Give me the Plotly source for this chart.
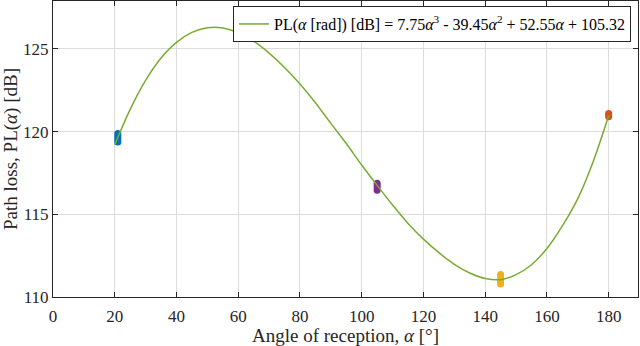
import plotly.graph_objects as go

# fitted curve (deg -> dB)
fit_angle = [20, 25, 30, 35, 40, 45, 50, 55, 60, 65, 70, 75, 80, 85, 90, 95, 100,
             105, 110, 115, 120, 125, 130, 135, 140, 145, 150, 155, 160, 165, 170, 175, 180]
fit_pl = [119.2, 121.35, 123.1, 124.45, 125.4, 126.0, 126.28, 126.27, 125.98, 125.47, 124.75, 123.88, 122.88, 121.75, 120.5, 119.28, 117.98,
          116.75, 115.56, 114.45, 113.5, 112.68, 111.98, 111.45, 111.12, 111.05, 111.35, 111.95, 112.93, 114.3, 115.95, 118.2, 120.97]

# measured points per reception angle
meas_angle = [21, 105, 145, 180]
meas_pl = [
    [119.38, 119.5, 119.62, 119.75, 119.88],
    [116.45, 116.6, 116.75, 116.88],
    [110.78, 110.92, 111.08, 111.22, 111.36],
    [120.9, 121.0, 121.1],
]
meas_colors = ["#0072BD", "#7E2F8E", "#EDB120", "#D95319"]

legend_text = ("PL(<i>α</i> [rad]) [dB] = 7.75<i>α</i><sup>3</sup> - 39.45<i>α</i><sup>2</sup>"
               " + 52.55<i>α</i> + 105.32")
serif = "Liberation Serif"

fig = go.Figure()
for ang, vals, col in zip(meas_angle, meas_pl, meas_colors):
    fig.add_trace(go.Scatter(x=[ang] * len(vals), y=vals, mode="markers", marker={"color": col, "size": 7, "line": {"width": 0}},
                             showlegend=False))
fig.add_trace(go.Scatter(x=fit_angle, y=fit_pl, mode="lines", line={"color": "#77AC30", "width": 1.5, "shape": "spline"},
                         name=legend_text, showlegend=True))

axis_common = dict(showline=True, linecolor="#262626", linewidth=1, mirror="ticks", ticks="inside", ticklen=5,
                   tickcolor="#262626", showgrid=True, gridcolor="#dcdcdc", gridwidth=1, zeroline=False, automargin=False,
                   tickfont={"family": serif, "size": 17, "color": "#262626"})

fig.update_xaxes(range=[0, 189.5], tickvals=[0, 20, 40, 60, 80, 100, 120, 140, 160, 180], ticklabelstandoff=4,
                 title={"text": "Angle of reception, <i>α</i> [°]", "font": {"family": serif, "size": 19, "color": "#262626"}, "standoff": 2},
                 **axis_common)
fig.update_yaxes(range=[110, 127.9], tickvals=[110, 115, 120, 125],
                 title={"text": "Path loss, PL(<i>α</i>) [dB]", "font": {"family": serif, "size": 19, "color": "#262626"}, "standoff": 4},
                 **axis_common)

fig.update_layout(
    width=640, height=346,
    margin={"l": 53, "r": 2, "t": 1, "b": 49, "autoexpand": False},
    paper_bgcolor="white", plot_bgcolor="white",
    font={"family": serif, "color": "#000000"},
    legend={"x": 0.988, "y": 0.983, "xanchor": "right", "yanchor": "top", "bgcolor": "white",
            "bordercolor": "#262626", "borderwidth": 1, "font": {"family": serif, "size": 16, "color": "#000000"},
            "itemwidth": 30, "tracegroupgap": 0},
    showlegend=True,
)

# page body has a default 8px margin; drop it so the figure fills the window
fig.write_html("out.html", config={"displayModeBar": False}, post_script="document.body.style.margin='0px';")
